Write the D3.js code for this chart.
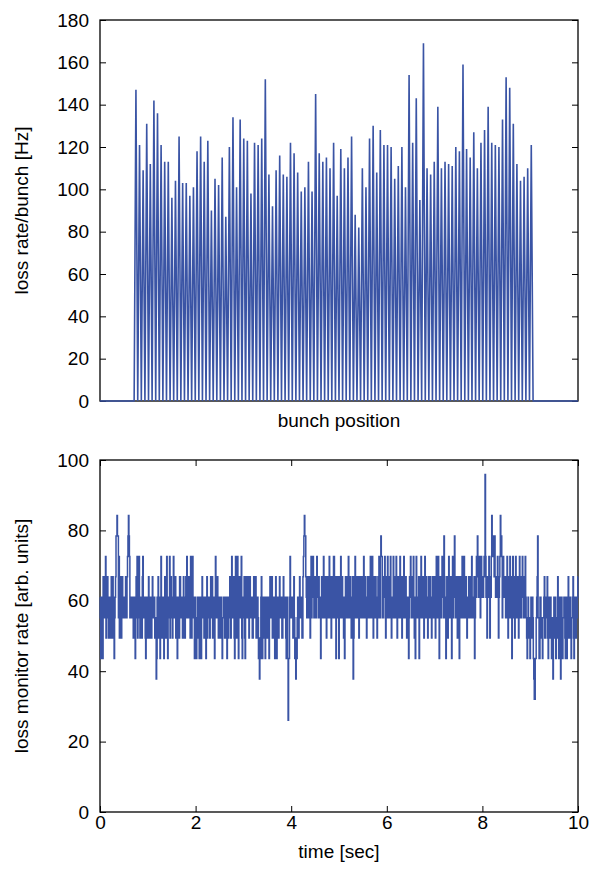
<!DOCTYPE html>
<html><head><meta charset="utf-8">
<script src="https://cdn.jsdelivr.net/npm/d3@7"></script>
<style>
body{margin:0;background:#fff}
text{font-family:"Liberation Sans",Arial,Helvetica,sans-serif;font-size:19px;fill:#000}
</style>
</head><body><svg id="c" width="593" height="870"></svg>
<script>
// ---- top panel data: loss rate per bunch [Hz] ----
const bunchPeaks = [147,121,109,131,112,142,136,121,113,113,96,104,125,103,103,97,101,118,125,113,
123,90,105,102,115,87,120,134,101,133,124,123,98,122,121,124,152,107,92,109,
116,107,106,122,117,108,99,101,113,99,145,117,113,115,110,122,97,119,110,115,
125,88,82,110,101,124,130,108,128,121,121,120,105,111,120,101,154,122,143,95,
169,110,107,113,139,110,113,112,111,120,118,159,119,115,127,110,122,128,139,122,
121,120,133,153,148,131,112,104,106,110,121];
const firstBunchSlot = 10;
const slotCount = 133;
const lossTicks = [0,20,40,60,80,100,120,140,160,180];

// ---- bottom panel data: loss monitor rate [arb. units], one sample per 0.01 s over 10 s ----
const timeSpan = 10;
const monitorRate = [
61,55.2,43.6,61,61,49.4,43.6,66.8,55.2,61,66.8,55.2,72.6,49.4,55.2,61,66.8,55.2,49.4,61,61,49.4,55.2,61,66.8,49.4,55.2,66.8,61,49.4,43.6,55.2,61,66.8,78.4,78.4,84.2,78.4,78.4,55.2,72.6,49.4,55.2,61,66.8,49.4,55.2,66.8,61,55.2,
61,55.2,55.2,61,66.8,55.2,55.2,66.8,72.6,78.4,84.2,78.4,72.6,55.2,61,55.2,55.2,61,61,55.2,49.4,61,61,49.4,43.6,61,66.8,55.2,72.6,49.4,55.2,66.8,72.6,55.2,49.4,61,61,49.4,49.4,66.8,72.6,55.2,55.2,61,61,49.4,43.6,61,61,49.4,
55.2,61,66.8,49.4,49.4,55.2,61,49.4,49.4,61,66.8,55.2,55.2,61,61,49.4,49.4,55.2,37.8,43.6,61,55.2,66.8,49.4,55.2,61,43.6,61,72.6,55.2,49.4,61,61,49.4,43.6,61,66.8,55.2,49.4,66.8,72.6,55.2,43.6,61,61,55.2,72.6,49.4,55.2,66.8,
61,55.2,49.4,61,72.6,55.2,55.2,61,66.8,49.4,49.4,61,43.6,55.2,61,49.4,49.4,66.8,66.8,55.2,55.2,61,61,49.4,49.4,66.8,61,55.2,49.4,61,66.8,55.2,72.6,55.2,55.2,61,66.8,55.2,61,49.4,72.6,55.2,49.4,61,72.6,55.2,55.2,61,43.6,55.2,
61,55.2,43.6,49.4,55.2,61,61,49.4,43.6,55.2,61,55.2,43.6,61,66.8,55.2,55.2,61,49.4,61,61,55.2,43.6,55.2,66.8,49.4,55.2,61,61,55.2,49.4,61,66.8,55.2,55.2,66.8,49.4,61,61,55.2,43.6,61,72.6,55.2,55.2,61,66.8,55.2,49.4,55.2,
61,55.2,49.4,61,61,55.2,43.6,55.2,55.2,61,61,49.4,49.4,61,61,55.2,43.6,61,61,49.4,55.2,61,66.8,55.2,49.4,61,72.6,55.2,55.2,66.8,66.8,49.4,43.6,61,72.6,55.2,49.4,61,72.6,55.2,43.6,61,66.8,55.2,55.2,61,72.6,49.4,43.6,61,
61,55.2,66.8,49.4,43.6,61,66.8,55.2,55.2,61,66.8,55.2,49.4,61,66.8,55.2,55.2,61,61,49.4,49.4,61,66.8,55.2,55.2,61,66.8,49.4,49.4,61,61,55.2,43.6,49.4,37.8,43.6,43.6,61,66.8,55.2,43.6,55.2,61,49.4,49.4,61,43.6,55.2,61,55.2,
49.4,55.2,61,55.2,43.6,61,66.8,55.2,55.2,61,66.8,49.4,49.4,61,61,55.2,43.6,61,66.8,55.2,43.6,61,61,49.4,49.4,61,66.8,55.2,55.2,61,61,49.4,49.4,55.2,66.8,55.2,55.2,61,61,49.4,43.6,55.2,61,43.6,26.1,43.6,43.6,61,72.6,55.2,
55.2,61,61,55.2,49.4,61,66.8,55.2,43.6,49.4,37.8,43.6,43.6,55.2,61,49.4,49.4,61,66.8,55.2,55.2,61,61,49.4,49.4,66.8,72.6,78.4,84.2,78.4,78.4,66.8,61,55.2,66.8,55.2,55.2,61,66.8,55.2,49.4,66.8,72.6,55.2,61,66.8,72.6,61,55.2,66.8,
66.8,55.2,55.2,66.8,72.6,61,61,55.2,66.8,55.2,55.2,61,43.6,55.2,66.8,61,55.2,66.8,72.6,55.2,61,66.8,66.8,55.2,49.4,61,66.8,55.2,55.2,66.8,72.6,55.2,61,66.8,49.4,61,66.8,55.2,55.2,72.6,72.6,55.2,61,66.8,43.6,55.2,66.8,61,55.2,66.8,
43.6,61,66.8,55.2,72.6,61,55.2,66.8,61,55.2,49.4,61,43.6,55.2,66.8,55.2,55.2,61,66.8,55.2,72.6,61,55.2,66.8,61,55.2,49.4,61,66.8,55.2,37.8,49.4,66.8,55.2,72.6,61,55.2,66.8,66.8,55.2,61,66.8,49.4,61,66.8,55.2,55.2,66.8,61,55.2,
66.8,55.2,72.6,61,55.2,66.8,61,55.2,49.4,61,66.8,55.2,55.2,66.8,61,55.2,72.6,61,55.2,66.8,72.6,55.2,49.4,61,66.8,55.2,55.2,66.8,61,55.2,49.4,61,66.8,55.2,72.6,61,55.2,72.6,78.4,72.6,72.6,55.2,55.2,66.8,66.8,61,72.6,55.2,49.4,61,
66.8,55.2,72.6,61,55.2,66.8,66.8,55.2,72.6,55.2,49.4,61,61,55.2,72.6,61,55.2,66.8,66.8,55.2,72.6,61,49.4,61,66.8,55.2,55.2,66.8,72.6,55.2,61,66.8,49.4,61,66.8,55.2,72.6,61,55.2,66.8,66.8,55.2,49.4,61,61,55.2,43.6,55.2,66.8,61,
72.6,61,55.2,66.8,66.8,55.2,72.6,55.2,49.4,61,43.6,55.2,72.6,61,61,55.2,55.2,66.8,43.6,55.2,66.8,55.2,72.6,61,55.2,66.8,66.8,55.2,49.4,61,72.6,55.2,55.2,66.8,61,55.2,49.4,61,66.8,55.2,55.2,66.8,61,55.2,49.4,61,66.8,55.2,55.2,66.8,
61,55.2,49.4,66.8,72.6,55.2,55.2,61,72.6,55.2,43.6,55.2,66.8,55.2,55.2,66.8,72.6,61,61,55.2,78.4,66.8,55.2,61,43.6,55.2,66.8,55.2,49.4,61,72.6,55.2,55.2,66.8,66.8,55.2,43.6,61,72.6,55.2,61,66.8,78.4,61,55.2,66.8,66.8,55.2,49.4,61,
66.8,55.2,43.6,55.2,66.8,61,55.2,66.8,72.6,55.2,61,66.8,72.6,55.2,55.2,61,66.8,55.2,49.4,61,61,55.2,66.8,55.2,55.2,61,66.8,55.2,72.6,61,61,55.2,55.2,66.8,43.6,55.2,66.8,61,72.6,66.8,78.4,72.6,61,66.8,72.6,61,55.2,66.8,72.6,61,
66.8,61,61,66.8,72.6,66.8,95.9,72.6,61,66.8,49.4,61,66.8,61,72.6,66.8,49.4,61,61,72.6,84.2,78.4,78.4,72.6,72.6,66.8,78.4,66.8,61,66.8,66.8,61,72.6,66.8,49.4,61,66.8,72.6,84.2,78.4,78.4,72.6,55.2,66.8,72.6,61,61,66.8,66.8,55.2,
55.2,66.8,72.6,55.2,49.4,61,66.8,55.2,72.6,61,55.2,66.8,43.6,61,72.6,55.2,66.8,55.2,49.4,61,72.6,55.2,55.2,66.8,66.8,55.2,49.4,61,72.6,55.2,61,66.8,55.2,66.8,72.6,61,66.8,55.2,55.2,66.8,72.6,61,55.2,49.4,43.6,55.2,61,49.4,49.4,55.2,
43.6,55.2,61,49.4,49.4,61,55.2,43.6,37.8,32,32,43.6,43.6,55.2,61,66.8,78.4,55.2,55.2,43.6,43.6,61,61,49.4,49.4,55.2,43.6,55.2,55.2,61,66.8,49.4,49.4,61,61,55.2,66.8,49.4,43.6,55.2,61,49.4,49.4,61,55.2,43.6,43.6,55.2,37.8,49.4,
61,55.2,49.4,61,43.6,55.2,55.2,49.4,66.8,55.2,43.6,49.4,61,49.4,37.8,43.6,61,49.4,43.6,55.2,55.2,61,61,49.4,43.6,61,55.2,43.6,49.4,61,66.8,55.2,49.4,61,61,49.4,43.6,55.2,55.2,61,66.8,49.4,43.6,55.2,61,49.4,49.4,61,55.2,61,66.8
];
const timeTicks = [0,2,4,6,8,10];
const rateTicks = [0,20,40,60,80,100];

const lineColor = "#3a54a5";
const svg = d3.select("#c");
const L = 100, R = 578;

function frame(g, top, bottom){
  g.append("rect").attr("x",L).attr("y",top).attr("width",R-L).attr("height",bottom-top)
   .attr("fill","none").attr("stroke","#000").attr("stroke-width",1.3);
}
function styleAxis(sel){
  sel.select(".domain").remove();
  sel.selectAll(".tick line").attr("stroke","#000").attr("stroke-width",1);
  sel.selectAll(".tick text").attr("fill","#000");
}

// ---------- top panel ----------
const t0 = 20, t1 = 401;
const xs = d3.scaleLinear().domain([0, slotCount]).range([L, R]);
const ys = d3.scaleLinear().domain([0, 180]).range([t1, t0]);
const topG = svg.append("g");
const pts = [{s:0, v:0}];
bunchPeaks.forEach((p,i)=>{
  const s = firstBunchSlot + i;
  pts.push({s:s-0.5, v:0});
  pts.push({s:s, v:p});
});
pts.push({s:firstBunchSlot + bunchPeaks.length - 0.5, v:0});
pts.push({s:slotCount, v:0});

topG.append("g").attr("transform",`translate(${L},0)`)
  .call(d3.axisLeft(ys).tickValues(lossTicks).tickSize(-6).tickPadding(11)).call(styleAxis);
topG.append("g").attr("transform",`translate(${R},0)`)
  .call(d3.axisRight(ys).tickValues(lossTicks).tickSize(-6).tickFormat("")).call(styleAxis);
frame(topG, t0, t1);
topG.append("path").datum(pts)
  .attr("d", d3.line().x(d=>xs(d.s)).y(d=>ys(d.v)))
  .attr("fill","none").attr("stroke",lineColor).attr("stroke-width",1.6).attr("stroke-linejoin","bevel");
topG.append("text").attr("x",(L+R)/2).attr("y",427).attr("text-anchor","middle").text("bunch position");
topG.append("text").attr("transform",`translate(28,${(t0+t1)/2}) rotate(-90)`).attr("text-anchor","middle").text("loss rate/bunch [Hz]");

// ---------- bottom panel ----------
const b0 = 460, b1 = 812;
const xt = d3.scaleLinear().domain([0, 10]).range([L, R]);
const yr = d3.scaleLinear().domain([0, 100]).range([b1, b0]);
const dt = timeSpan / (monitorRate.length - 1);
const botG = svg.append("g");
botG.append("g").attr("transform",`translate(${L},0)`)
  .call(d3.axisLeft(yr).tickValues(rateTicks).tickSize(-6).tickPadding(11)).call(styleAxis);
botG.append("g").attr("transform",`translate(${R},0)`)
  .call(d3.axisRight(yr).tickValues(rateTicks).tickSize(-6).tickFormat("")).call(styleAxis);
botG.append("g").attr("transform",`translate(0,${b1})`)
  .call(d3.axisBottom(xt).tickValues(timeTicks).tickSize(-6).tickPadding(4)).call(styleAxis);
botG.append("g").attr("transform",`translate(0,${b0})`)
  .call(d3.axisTop(xt).tickValues(timeTicks).tickSize(-6).tickFormat("")).call(styleAxis);
frame(botG, b0, b1);
botG.append("path").datum(monitorRate)
  .attr("d", d3.line().curve(d3.curveStep).x((d,i)=>xt(i*dt)).y(d=>yr(d)))
  .attr("fill","none").attr("stroke",lineColor).attr("stroke-width",1.5);
botG.append("text").attr("x",(L+R)/2).attr("y",858).attr("text-anchor","middle").text("time [sec]");
botG.append("text").attr("transform",`translate(28,${(b0+b1)/2}) rotate(-90)`).attr("text-anchor","middle").text("loss monitor rate [arb. units]");
</script>
</body></html>
